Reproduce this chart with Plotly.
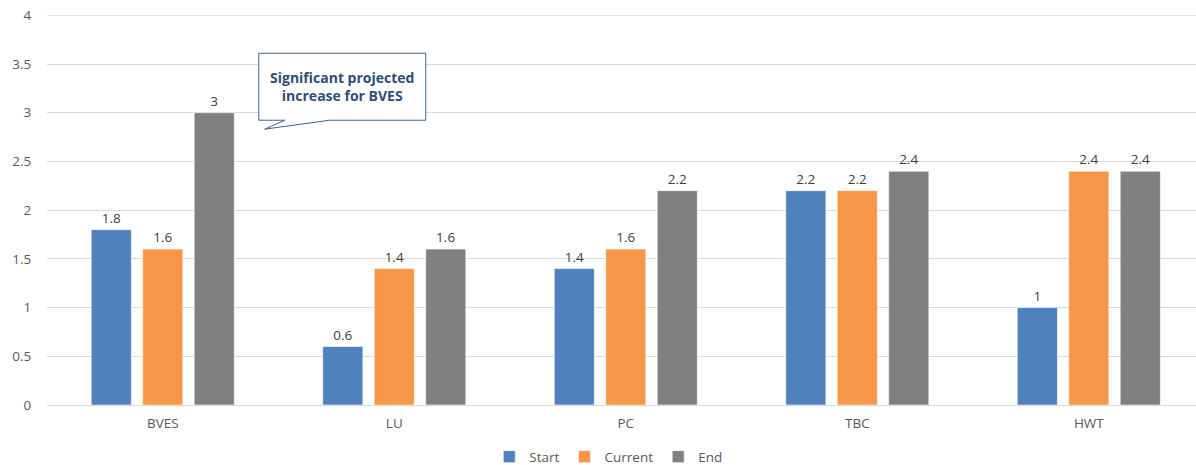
import plotly.graph_objects as go

categories = ["BVES", "LU", "PC", "TBC", "HWT"]
start = [1.8, 0.6, 1.4, 2.2, 1.0]
current = [1.6, 1.4, 1.6, 2.2, 2.4]
end = [3.0, 1.6, 2.2, 2.4, 2.4]
series_names = ["Start", "Current", "End"]
colors = ["#4F81BD", "#F79646", "#808080"]
y_ticks = [0, 0.5, 1, 1.5, 2, 2.5, 3, 3.5, 4]
y_ticklabels = ["0", "0.5", "1", "1.5", "2", "2.5", "3", "3.5", "4"]
y_max = 4
callout_text = "Significant projected<br>increase for BVES"

xpos = list(range(len(categories)))
font = "Open Sans, Noto Sans, sans-serif"

fig = go.Figure()
for name, vals, col in zip(series_names, [start, current, end], colors):
    fig.add_trace(go.Bar(
        x=xpos, y=vals, name=name,
        marker=dict(color=col, line=dict(color="rgba(255,255,255,0.6)", width=1)),
        text=[f"{v:g}" for v in vals], textposition="outside",
        textfont=dict(size=13.5, color="#404040", family=font),
        cliponaxis=False,
    ))

# top gridline (plotly omits the gridline lying on the plot edge)
fig.add_shape(type="line", xref="paper", x0=0, x1=1, yref="y", y0=y_max, y1=y_max,
              line=dict(color="#D9D9D9", width=1), layer="below")

# callout box with tail (data coordinates)
x0, x1, y0, y1 = 0.4147, 1.136, 2.923, 3.610
path = (f"M {x0},{y1} L {x1},{y1} L {x1},{y0} L 0.721,{y0} "
        f"L 0.4406,2.831 L 0.527,{y0} L {x0},{y0} Z")
fig.add_shape(type="path", path=path, xref="x", yref="y",
              fillcolor="white", line=dict(color="#3E6293", width=1), layer="above")
fig.add_annotation(x=0.775, y=3.268, xref="x", yref="y", text=f"<b>{callout_text}</b>",
                   showarrow=False, font=dict(size=14, color="#2E4D7B", family=font),
                   align="center")

fig.update_layout(
    width=1196, height=465,
    margin=dict(l=47, r=0, t=15, b=60, autoexpand=False),
    paper_bgcolor="white", plot_bgcolor="white",
    barmode="group", bargap=0.333, bargroupgap=0.22,
    font=dict(family=font, size=13.5, color="#595959"),
    legend=dict(orientation="h", xref="paper", yref="paper",
                x=0.4885, xanchor="center", y=-0.133, yanchor="middle",
                font=dict(size=13.5, color="#595959"), itemwidth=30,
                traceorder="normal"),
    xaxis=dict(range=[-0.5, 4.463], tickvals=xpos, ticktext=categories,
               showgrid=False, zeroline=False, showline=True, automargin=False,
               linecolor="#D9D9D9", linewidth=1,
               ticks="outside", ticklen=6, tickcolor="rgba(0,0,0,0)",
               tickfont=dict(size=13.5, color="#595959")),
    yaxis=dict(range=[0, 4.003], tickvals=y_ticks, ticktext=y_ticklabels,
               showgrid=True, gridcolor="#D9D9D9", gridwidth=1, automargin=False,
               zeroline=False, showline=False,
               ticks="outside", ticklen=12, tickcolor="rgba(0,0,0,0)",
               tickfont=dict(size=13.5, color="#595959")),
)

# remove the browser's default 8px body margin so the figure fills the window
fig.write_html("out.html", config={"displayModeBar": False},
               post_script="document.body.style.margin='0';document.body.style.overflow='hidden';")
